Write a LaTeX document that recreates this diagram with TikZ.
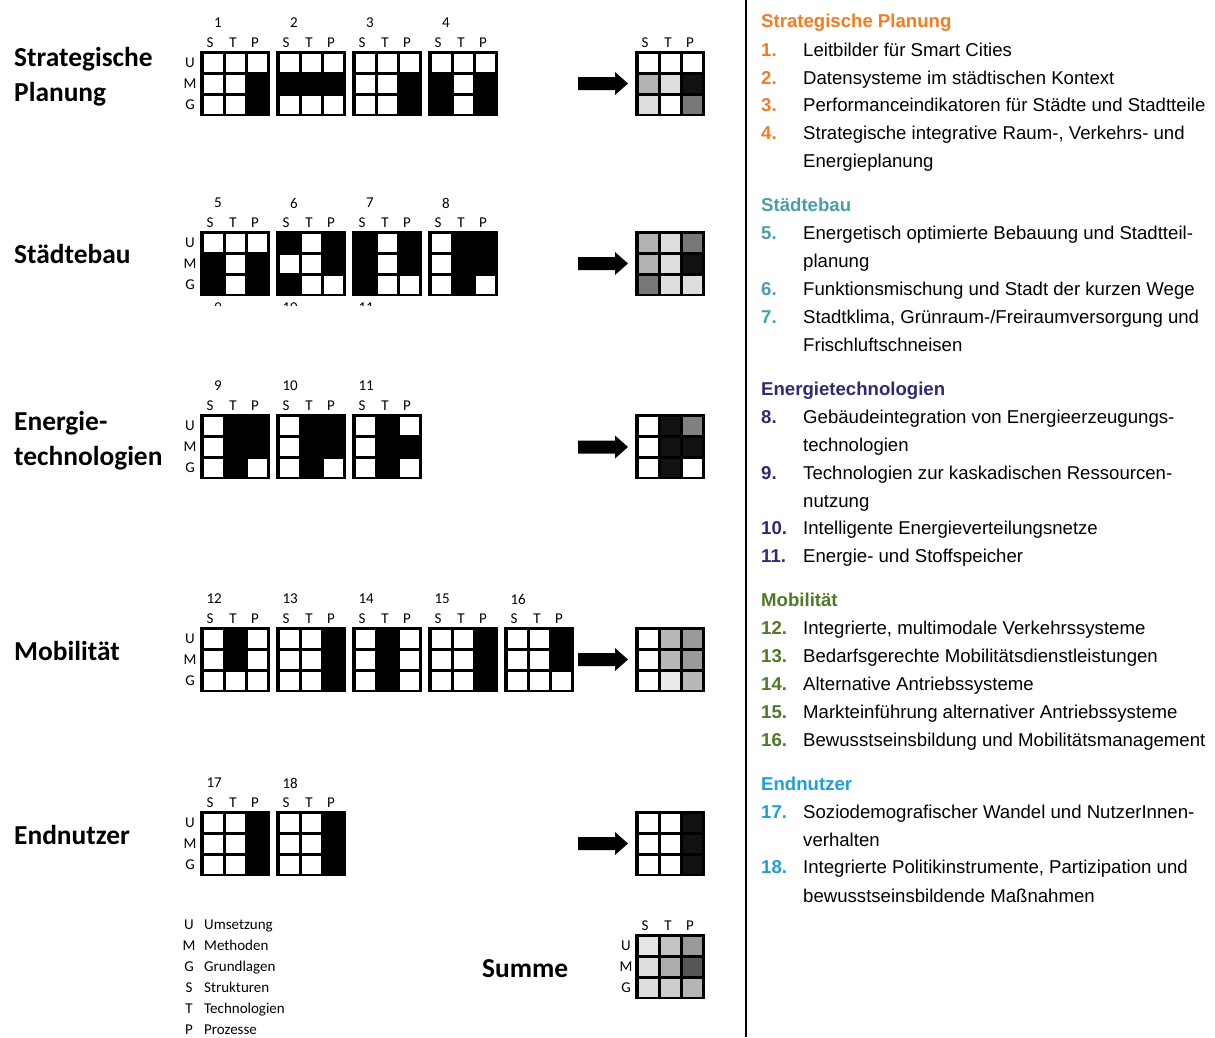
\documentclass[tikz,border=0pt]{standalone}
\usepackage{fontspec}
\setmainfont{Liberation Sans}
\newfontfamily\calfont{Carlito}
\definecolor{cSP}{HTML}{F47B20}
\definecolor{cST}{HTML}{4A9FA8}
\definecolor{cEN}{HTML}{2E2B73}
\definecolor{cMO}{HTML}{4E7A27}
\definecolor{cEU}{HTML}{1E9FD8}
\colorlet{w}{white}
\colorlet{k}{black}
\definecolor{q1}{HTML}{DDDDDD}
\definecolor{q2}{HTML}{B2B2B2}
\definecolor{q3}{HTML}{777777}
\definecolor{q4}{HTML}{111111}
\definecolor{r2}{HTML}{808080}
\definecolor{m1}{HTML}{EBEBEB}
\definecolor{m2}{HTML}{B8B8B8}
\definecolor{m3}{HTML}{999999}
\definecolor{sA}{HTML}{E6E6E6}
\definecolor{sB}{HTML}{C4C4C4}
\definecolor{sC}{HTML}{999999}
\definecolor{sD}{HTML}{DDDDDD}
\definecolor{sE}{HTML}{ADADAD}
\definecolor{sF}{HTML}{555555}
\definecolor{sG}{HTML}{CCCCCC}
\definecolor{sH}{HTML}{B5B5B5}
\tikzset{
  lab/.style={font=\calfont\fontsize{15}{15}\selectfont, inner sep=0pt},
  title/.style={font=\calfont\bfseries\fontsize{27.4}{27.4}\selectfont, inner sep=0pt, anchor=base west},
  head/.style={font=\bfseries\fontsize{18.6}{22}\selectfont, inner sep=0pt, anchor=base west},
  item/.style={font=\fontsize{18.6}{22}\selectfont, inner sep=0pt, anchor=base west},
  frame/.style={fill=black, inner sep=0pt, minimum width=70, minimum height=65, anchor=north west},
}
% grid: name, x, y, colours
\newcommand\stpgrid[4]{%
  \node[frame] (#1) at (#2,#3) {};
  \foreach \c [count=\i from 0] in {#4} {
    \pgfmathtruncatemacro\gc{mod(\i,3)}
    \pgfmathtruncatemacro\gr{div(\i,3)}
    \fill[\c] ({#2+3.5+22*\gc},{#3+2.5+21*\gr}) rectangle ++(19,18);
  }}
\newcommand\stplab[3]{%
  \node[lab] (#1-S) at ({#2+10},{#3-8}) {S};
  \node[lab] (#1-T) at ({#2+33},{#3-8}) {T};
  \node[lab] (#1-P) at ({#2+55},{#3-8}) {P};}
\newcommand\numlab[4]{%
  \node[lab, anchor=east] (#1-n) at ({#2+22},{#3-28}) {#4};}
\newcommand\umglab[3]{%
  \node[lab] (#1-U) at ({#2-10},{#3+11.5}) {U};
  \node[lab] (#1-M) at ({#2-10},{#3+32.5}) {M};
  \node[lab] (#1-G) at ({#2-10},{#3+53.5}) {G};}
\newcommand\bigarrow[1]{%
  \fill[black] (578,#1-6.5) -- (615,#1-6.5) -- (615,#1-11.5) -- (628,#1) -- (615,#1+11.5) -- (615,#1+6.5) -- (578,#1+6.5) -- cycle;}
\begin{document}
\begin{tikzpicture}[x=1pt,y=-1pt]
\useasboundingbox[fill=white] (0,0) rectangle (1215,1037);

% ---------- Row 1: Strategische Planung
\node[title] (t1a) at (14,66) {Strategische};
\node[title] (t1b) at (14,101) {Planung};
\umglab{r1}{200}{51}
\stpgrid{g1}{200}{51}{w,w,w, w,w,k, w,w,k}   \stplab{g1}{200}{51} \numlab{g1}{200}{51}{1}
\stpgrid{g2}{276}{51}{w,w,w, k,k,k, w,w,w}   \stplab{g2}{276}{51} \numlab{g2}{276}{51}{2}
\stpgrid{g3}{352}{51}{w,w,w, w,w,k, w,w,k}   \stplab{g3}{352}{51} \numlab{g3}{352}{51}{3}
\stpgrid{g4}{428}{51}{w,w,w, k,w,k, k,w,k}   \stplab{g4}{428}{51} \numlab{g4}{428}{51}{4}
\bigarrow{83.5}
\stpgrid{s1}{635}{51}{w,w,w, q2,q1,q4, q1,w,q3} \stplab{s1}{635}{51}

% ---------- Row 2: Städtebau
\node[title] (t2) at (14,263) {Städtebau};
\umglab{r2}{200}{231}
\stpgrid{g5}{200}{231}{w,w,w, k,w,k, k,w,k}   \stplab{g5}{200}{231} \numlab{g5}{200}{231}{5}
\stpgrid{g6}{276}{231}{k,w,k, w,w,k, k,w,w}   \stplab{g6}{276}{231} \numlab{g6}{276}{231}{6}
\stpgrid{g7}{352}{231}{k,w,k, k,w,k, k,w,w}   \stplab{g7}{352}{231} \numlab{g7}{352}{231}{7}
\stpgrid{g8}{428}{231}{w,k,k, w,k,k, w,k,w}   \stplab{g8}{428}{231} \numlab{g8}{428}{231}{8}
\bigarrow{263.5}
\stpgrid{s2}{635}{231}{q2,q1,q3, q2,q1,q4, q3,q1,q1}
\begin{scope}
  \clip (190,299) rectangle (430,305);
  \node[lab, anchor=base east] (f9) at (222,312) {9};
  \node[lab, anchor=base east] (f10) at (298,312) {10};
  \node[lab, anchor=base east] (f11) at (374,312) {11};
\end{scope}

% ---------- Row 3: Energietechnologien
\node[title] (t3a) at (14,430) {Energie-};
\node[title] (t3b) at (14,465) {technologien};
\umglab{r3}{200}{414}
\stpgrid{g9}{200}{414}{w,k,k, w,k,k, w,k,w}    \stplab{g9}{200}{414}  \numlab{g9}{200}{414}{9}
\stpgrid{g10}{276}{414}{w,k,k, w,k,k, w,k,w}   \stplab{g10}{276}{414} \numlab{g10}{276}{414}{10}
\stpgrid{g11}{352}{414}{w,k,w, w,k,k, w,k,w}   \stplab{g11}{352}{414} \numlab{g11}{352}{414}{11}
\bigarrow{447}
\stpgrid{s3}{635}{414}{w,q4,r2, w,q4,q4, w,q4,w}

% ---------- Row 4: Mobilität
\node[title] (t4) at (14,660) {Mobilität};
\umglab{r4}{200}{627}
\stpgrid{g12}{200}{627}{w,k,w, w,k,w, w,w,w}   \stplab{g12}{200}{627} \numlab{g12}{200}{627}{12}
\stpgrid{g13}{276}{627}{w,w,k, w,w,k, w,w,k}   \stplab{g13}{276}{627} \numlab{g13}{276}{627}{13}
\stpgrid{g14}{352}{627}{w,k,w, w,k,w, w,k,w}   \stplab{g14}{352}{627} \numlab{g14}{352}{627}{14}
\stpgrid{g15}{428}{627}{w,w,k, w,w,k, w,w,k}   \stplab{g15}{428}{627} \numlab{g15}{428}{627}{15}
\stpgrid{g16}{504}{627}{w,w,k, w,w,k, w,w,w}   \stplab{g16}{504}{627} \numlab{g16}{504}{627}{16}
\bigarrow{659.5}
\stpgrid{s4}{635}{627}{w,m2,m3, w,m2,m3, w,m1,m2}

% ---------- Row 5: Endnutzer
\node[title] (t5) at (14,844) {Endnutzer};
\umglab{r5}{200}{811}
\stpgrid{g17}{200}{811}{w,w,k, w,w,k, w,w,k}   \stplab{g17}{200}{811} \numlab{g17}{200}{811}{17}
\stpgrid{g18}{276}{811}{w,w,k, w,w,k, w,w,k}   \stplab{g18}{276}{811} \numlab{g18}{276}{811}{18}
\bigarrow{843.5}
\stpgrid{s5}{635}{811}{w,w,q4, w,w,q4, w,w,q4}

% ---------- Summe
\node[title] (tsum) at (482,977) {Summe};
\stpgrid{sum}{635}{934}{sA,sB,sC, sD,sE,sF, sD,sG,sH}
\stplab{sum}{635}{934}
\umglab{sum}{636}{934}

% ---------- Legend
\foreach \l/\t [count=\j from 0] in {U/Umsetzung, M/Methoden, G/Grundlagen, S/Strukturen, T/Technologien, P/Prozesse} {
  \node[lab, anchor=base] (leg\j) at (189,{929.5+20.9*\j}) {\l};
  \node[lab, anchor=base west] (legt\j) at (204,{929.5+20.9*\j}) {\t};
}

% ---------- Divider
\draw[line width=1.5pt] (746,0) coordinate (d0) -- (746,1037) coordinate (d1);

% ---------- Right panel
\node[head, text=cSP] (h1) at (761,27.5) {Strategische Planung};
\node[head, text=cSP] (n1) at (761,56.5) {1.}; \node[item] (i1) at (803,56.5) {Leitbilder für Smart Cities};
\node[head, text=cSP] (n2) at (761,84.5) {2.}; \node[item] (i2) at (803,84.5) {Datensysteme im städtischen Kontext};
\node[head, text=cSP] (n3) at (761,111.5) {3.}; \node[item] (i3) at (803,111.5) {Performanceindikatoren für Städte und Stadtteile};
\node[head, text=cSP] (n4) at (761,139.5) {4.}; \node[item] (i4) at (803,139.5) {Strategische integrative Raum-, Verkehrs- und};
\node[item] (i4b) at (803,167.5) {Energieplanung};

\node[head, text=cST] (h2) at (761,211.5) {Städtebau};
\node[head, text=cST] (n5) at (761,239.5) {5.}; \node[item] (i5) at (803,239.5) {Energetisch optimierte Bebauung und Stadtteil-};
\node[item] (i5b) at (803,267.5) {planung};
\node[head, text=cST] (n6) at (761,295.5) {6.}; \node[item] (i6) at (803,295.5) {Funktionsmischung und Stadt der kurzen Wege};
\node[head, text=cST] (n7) at (761,323.5) {7.}; \node[item] (i7) at (803,323.5) {Stadtklima, Grünraum-/Freiraumversorgung und};
\node[item] (i7b) at (803,351.5) {Frischluftschneisen};

\node[head, text=cEN] (h3) at (761,395.5) {Energietechnologien};
\node[head, text=cEN] (n8) at (761,423.5) {8.}; \node[item] (i8) at (803,423.5) {Gebäudeintegration von Energieerzeugungs-};
\node[item] (i8b) at (803,451.5) {technologien};
\node[head, text=cEN] (n9) at (761,479.5) {9.}; \node[item] (i9) at (803,479.5) {Technologien zur kaskadischen Ressourcen-};
\node[item] (i9b) at (803,507.5) {nutzung};
\node[head, text=cEN] (n10) at (761,534.5) {10.}; \node[item] (i10) at (803,534.5) {Intelligente Energieverteilungsnetze};
\node[head, text=cEN] (n11) at (761,562.5) {11.}; \node[item] (i11) at (803,562.5) {Energie- und Stoffspeicher};

\node[head, text=cMO] (h4) at (761,606.5) {Mobilität};
\node[head, text=cMO] (n12) at (761,634.5) {12.}; \node[item] (i12) at (803,634.5) {Integrierte, multimodale Verkehrssysteme};
\node[head, text=cMO] (n13) at (761,662.5) {13.}; \node[item] (i13) at (803,662.5) {Bedarfsgerechte Mobilitätsdienstleistungen};
\node[head, text=cMO] (n14) at (761,690.5) {14.}; \node[item] (i14) at (803,690.5) {Alternative Antriebssysteme};
\node[head, text=cMO] (n15) at (761,718.5) {15.}; \node[item] (i15) at (803,718.5) {Markteinführung alternativer Antriebssysteme};
\node[head, text=cMO] (n16) at (761,746.5) {16.}; \node[item] (i16) at (803,746.5) {Bewusstseinsbildung und Mobilitätsmanagement};

\node[head, text=cEU] (h5) at (761,790.5) {Endnutzer};
\node[head, text=cEU] (n17) at (761,818.5) {17.}; \node[item] (i17) at (803,818.5) {Soziodemografischer Wandel und NutzerInnen-};
\node[item] (i17b) at (803,846.5) {verhalten};
\node[head, text=cEU] (n18) at (761,873.5) {18.}; \node[item] (i18) at (803,873.5) {Integrierte Politikinstrumente, Partizipation und};
\node[item] (i18b) at (803,902.5) {bewusstseinsbildende Maßnahmen};
\end{tikzpicture}
\end{document}
